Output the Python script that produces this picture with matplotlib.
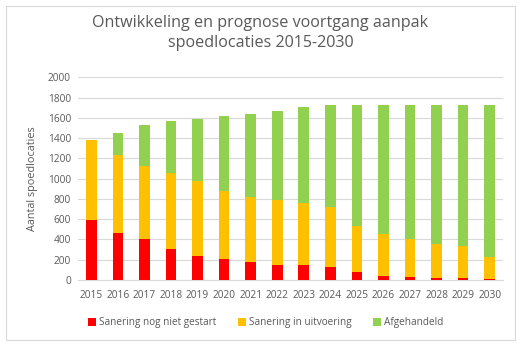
import matplotlib
matplotlib.use("Agg")
import matplotlib.pyplot as plt
from matplotlib.patches import Rectangle
import numpy as np

years = ["2015", "2016", "2017", "2018", "2019", "2020", "2021", "2022",
         "2023", "2024", "2025", "2026", "2027", "2028", "2029", "2030"]
niet_gestart = [590, 465, 408, 306, 240, 210, 181, 151, 151, 132, 82, 39, 33, 23, 23, 13]
in_uitvoering = [795, 770, 714, 750, 737, 668, 638, 639, 606, 592, 454, 415, 368, 336, 313, 214]
afgehandeld = [0, 220, 411, 517, 612, 744, 823, 881, 954, 1006, 1194, 1276, 1329, 1371, 1394, 1503]

plt.rcParams['font.family'] = ['Open Sans', 'DejaVu Sans']
text_col = "#595959"

fig = plt.figure(figsize=(5.21, 3.46), dpi=100)
fig.patches.append(Rectangle((6 / 521, 6 / 346), 509 / 521, 334 / 346,
                             transform=fig.transFigure, fill=False,
                             edgecolor="#d9d9d9", linewidth=0.8))

ax = fig.add_axes([78 / 521, 1 - 280 / 346, 425 / 521, (280 - 77.3) / 346])
x = np.arange(len(years))
w = 0.4
red = np.array(niet_gestart)
yel = np.array(in_uitvoering)
grn = np.array(afgehandeld)
ax.bar(x, red, w, color="#FF0000", label="Sanering nog niet gestart", zorder=3)
ax.bar(x, yel, w, bottom=red, color="#FFC000", label="Sanering in uitvoering", zorder=3)
ax.bar(x, grn, w, bottom=red + yel, color="#92D050", label="Afgehandeld", zorder=3)

ax.set_xlim(-0.5, len(years) - 0.5)
ax.set_ylim(0, 2000)
ax.set_yticks(range(0, 2001, 200))
ax.set_xticks(x)
ax.set_xticklabels(years)
ax.yaxis.grid(True, color="#d9d9d9", linewidth=0.8, zorder=0)
for s in ["top", "right", "left"]:
    ax.spines[s].set_visible(False)
ax.spines["bottom"].set_color("#d9d9d9")
ax.tick_params(axis="both", length=0, labelsize=7.3, colors=text_col, pad=5)
ax.tick_params(axis="x", pad=7)
ax.set_ylabel("Aantal spoedlocaties", fontsize=7.8, color=text_col, labelpad=7)

fig.text(0.5, 1 - 33 / 346, "Ontwikkeling en prognose voortgang aanpak\nspoedlocaties 2015-2030",
         ha="center", va="center", fontsize=11.6, color=text_col, linespacing=1.3)

leg = fig.legend(loc="center", bbox_to_anchor=(0.51, 1 - 323 / 346), ncol=3, frameon=False,
                 fontsize=7.2, handlelength=0.8, handleheight=0.8, handletextpad=0.3,
                 columnspacing=2.2)
for t in leg.get_texts():
    t.set_color(text_col)

fig.savefig("out.png", dpi=100)
